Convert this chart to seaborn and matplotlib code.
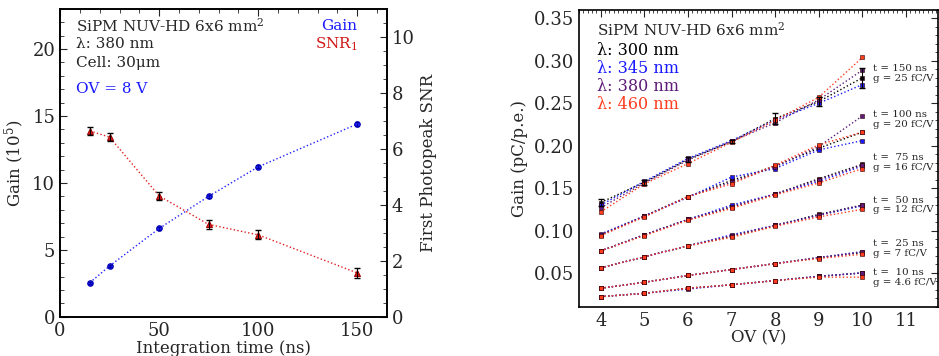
import numpy as np
import pandas as pd
import matplotlib.pyplot as plt
import seaborn as sns
from matplotlib.ticker import MultipleLocator, AutoMinorLocator

sns.set_style("white")
plt.rcParams["font.family"] = ["DejaVu Serif"]
plt.rcParams["mathtext.fontset"] = "dejavuserif"

# -------------------------
# Left panel data
# -------------------------
t_int = [15, 25, 50, 75, 100, 150]
gain = [2.55, 3.8, 6.6, 9.0, 11.2, 14.4]
gain_err = [0.08, 0.08, 0.1, 0.1, 0.12, 0.15]
snr = [6.64, 6.42, 4.32, 3.3, 2.93, 1.57]
snr_err = [0.15, 0.15, 0.13, 0.15, 0.16, 0.17]

# -------------------------
# Right panel data (gain in pC/p.e. vs OV)
# -------------------------
ov = [4, 5, 6, 7, 8, 9, 10]
times = [150, 100, 75, 50, 25, 10]
waves = ["300", "345", "380", "460"]
wave_colors = {"300": "black", "345": "#1a1aff", "380": "#5e1c78", "460": "#ff3c1e"}

g150 = {"300": [0.133, 0.157, 0.184, 0.205, 0.232, 0.252, 0.280],
        "345": [0.130, 0.158, 0.185, 0.206, 0.230, 0.250, 0.272],
        "380": [0.127, 0.156, 0.183, 0.205, 0.227, 0.254, 0.289],
        "460": [0.122, 0.155, 0.179, 0.204, 0.230, 0.257, 0.304]}
g100 = {"300": [0.095, 0.117, 0.140, 0.159, 0.176, 0.197, 0.216],
        "345": [0.096, 0.117, 0.139, 0.163, 0.173, 0.195, 0.206],
        "380": [0.095, 0.117, 0.140, 0.157, 0.175, 0.199, 0.235],
        "460": [0.094, 0.116, 0.140, 0.155, 0.177, 0.201, 0.216]}
g75 = {"300": [0.076, 0.095, 0.113, 0.128, 0.143, 0.161, 0.178],
       "345": [0.076, 0.095, 0.113, 0.130, 0.143, 0.158, 0.176],
       "380": [0.076, 0.095, 0.113, 0.128, 0.143, 0.160, 0.177],
       "460": [0.076, 0.094, 0.112, 0.126, 0.142, 0.156, 0.173]}
g50 = {"300": [0.056, 0.069, 0.082, 0.093, 0.106, 0.119, 0.130],
       "345": [0.056, 0.069, 0.082, 0.095, 0.106, 0.118, 0.129],
       "380": [0.056, 0.069, 0.082, 0.094, 0.106, 0.118, 0.130],
       "460": [0.056, 0.069, 0.082, 0.092, 0.105, 0.116, 0.125]}
g25 = {"300": [0.032, 0.039, 0.047, 0.054, 0.061, 0.068, 0.074],
       "345": [0.032, 0.039, 0.047, 0.054, 0.061, 0.068, 0.075],
       "380": [0.032, 0.039, 0.047, 0.054, 0.061, 0.068, 0.075],
       "460": [0.032, 0.039, 0.047, 0.054, 0.061, 0.067, 0.072]}
g10 = {"300": [0.022, 0.026, 0.032, 0.036, 0.041, 0.046, 0.050],
       "345": [0.022, 0.026, 0.031, 0.036, 0.041, 0.046, 0.050],
       "380": [0.022, 0.026, 0.032, 0.036, 0.041, 0.046, 0.050],
       "460": [0.022, 0.026, 0.032, 0.036, 0.041, 0.045, 0.045]}
groups = [g150, g100, g75, g50, g25, g10]
err150 = [0.004, 0.003, 0.003, 0.002, 0.006, 0.005, 0.012]

t_labels = ["t = 150 ns\ng = 25 fC/V", "t = 100 ns\ng = 20 fC/V", "t =  75 ns\ng = 16 fC/V",
            "t =  50 ns\ng = 12 fC/V", "t =  25 ns\ng = 7 fC/V", "t =  10 ns\ng = 4.6 fC/V"]
t_label_y = [0.285, 0.231, 0.180, 0.130, 0.079, 0.045]

rows = []
for t, grp in zip(times, groups):
    for w in waves:
        for x, v in zip(ov, grp[w]):
            rows.append({"OV": x, "gain": v, "wave": w, "t": t})
df_r = pd.DataFrame(rows)

fig = plt.figure(figsize=(9.39, 3.56), dpi=100)

# ---------- left panel ----------
ax1 = fig.add_axes([0.064, 0.110, 0.348, 0.865])
ax2 = ax1.twinx()
df_l = pd.DataFrame({"t": t_int, "gain": gain, "snr": snr})

sns.lineplot(data=df_l, x="t", y="gain", ax=ax1, color="#2020ff", linestyle=":",
             linewidth=1, marker="o", markersize=4, markeredgecolor="#0000aa")
ax1.errorbar(t_int, gain, yerr=gain_err, fmt="none", ecolor="#0000aa", capsize=1.5, lw=0.8)
sns.lineplot(data=df_l, x="t", y="snr", ax=ax2, color="#e02020", linestyle=":",
             linewidth=1, marker="^", markersize=5, markeredgecolor="#a00000")
ax2.errorbar(t_int, snr, yerr=snr_err, fmt="none", ecolor="black", capsize=2, lw=0.8)

ax1.set_xlim(0, 165)
ax1.set_ylim(0, 23)
ax2.set_ylim(0, 11)
ax1.xaxis.set_major_locator(MultipleLocator(50))
ax1.xaxis.set_minor_locator(MultipleLocator(10))
ax1.yaxis.set_major_locator(MultipleLocator(5))
ax1.yaxis.set_minor_locator(MultipleLocator(1))
ax2.yaxis.set_major_locator(MultipleLocator(2))
ax2.yaxis.set_minor_locator(MultipleLocator(0.5))
ax1.tick_params(which="both", direction="in", top=True, labelsize=13)
ax1.tick_params(which="major", length=5)
ax1.tick_params(which="minor", length=3)
ax2.tick_params(which="both", direction="in", labelsize=13)
ax2.tick_params(which="major", length=5)
ax2.tick_params(which="minor", length=3)
ax1.set_xlabel("Integration time (ns)", fontsize=12, labelpad=0)
ax1.set_ylabel("Gain (10$^5$)", fontsize=12)
ax2.set_ylabel("First Photopeak SNR", fontsize=12)
for a in (ax1, ax2):
    for s in a.spines.values():
        s.set_linewidth(1.2)
        s.set_color("black")

ax1.text(0.05, 0.945, "SiPM NUV-HD 6x6 mm$^2$", transform=ax1.transAxes, fontsize=11, va="center")
ax1.text(0.05, 0.885, "λ: 380 nm", transform=ax1.transAxes, fontsize=11, va="center")
ax1.text(0.05, 0.825, "Cell: 30μm", transform=ax1.transAxes, fontsize=11, va="center")
ax1.text(0.05, 0.74, "OV = 8 V", transform=ax1.transAxes, fontsize=11, va="center", color="#1a1aff")
ax1.text(0.91, 0.945, "Gain", transform=ax1.transAxes, fontsize=11, va="center", ha="right", color="#1a1aff")
ax1.text(0.91, 0.885, "SNR$_1$", transform=ax1.transAxes, fontsize=11, va="center", ha="right", color="#d01818")

# ---------- right panel ----------
ax3 = fig.add_axes([0.6166, 0.138, 0.382, 0.834])
sns.lineplot(data=df_r, x="OV", y="gain", hue="wave", units="t", estimator=None,
             palette=wave_colors, ax=ax3, linestyle=":", linewidth=1,
             marker="s", markersize=2.5, markeredgewidth=0.4, markeredgecolor="#300000",
             legend=False)
ax3.errorbar(ov, g150["300"], yerr=err150, fmt="none", ecolor="black", capsize=2, lw=0.8)

ax3.set_xlim(3.5, 11.73)
ax3.set_ylim(0.01, 0.36)
ax3.xaxis.set_major_locator(MultipleLocator(1))
ax3.xaxis.set_minor_locator(AutoMinorLocator(10))
ax3.yaxis.set_major_locator(MultipleLocator(0.05))
ax3.yaxis.set_minor_locator(MultipleLocator(0.01))
ax3.yaxis.set_major_formatter(plt.FormatStrFormatter("%.2f"))
ax3.tick_params(which="both", direction="in", top=True, right=True, labelsize=13)
ax3.tick_params(which="major", length=5)
ax3.tick_params(which="minor", length=2)
ax3.set_xlabel("OV (V)", fontsize=12, labelpad=0)
ax3.set_ylabel("Gain (pC/p.e.)", fontsize=12)
for s in ax3.spines.values():
    s.set_linewidth(1.2)
    s.set_color("black")

ax3.text(0.05, 0.935, "SiPM NUV-HD 6x6 mm$^2$", transform=ax3.transAxes, fontsize=11, va="center")
for i, w in enumerate(waves):
    ax3.text(0.05, 0.865 - i * 0.061, "λ: " + w + " nm", transform=ax3.transAxes,
             fontsize=11.5, va="center", color=wave_colors[w])
for lab, yv in zip(t_labels, t_label_y):
    ax3.text(10.25, yv, lab, fontsize=7.4, va="center", linespacing=1.1)

fig.savefig("out.png", dpi=100)
